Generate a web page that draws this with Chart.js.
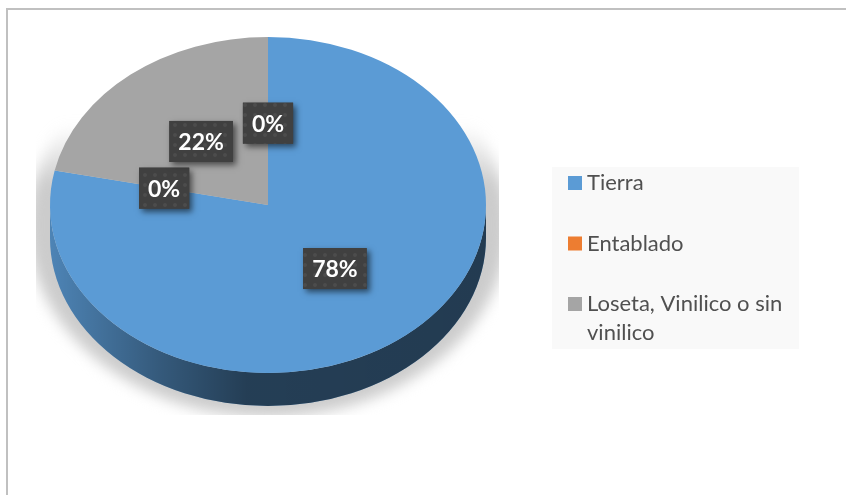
<!DOCTYPE html>
<html>
<head>
<meta charset="utf-8">
<title>Piso</title>
<script src="https://cdn.jsdelivr.net/npm/chart.js@4"></script>
<style>
  html, body { margin: 0; padding: 0; background: #fff; }
  canvas { display: block; }
</style>
</head>
<body>
<canvas id="grafico" width="846" height="495"></canvas>
<script>
const categorias = ['Tierra', 'Entablado', 'Loseta, Vinilico o sin vinilico', ''];
const valores = [78.3, 0, 21.7, 0];
const colores = ['#5b9bd5', '#ed7d31', '#a5a5a5', '#ffc000'];

// la torta se dibuja circular y se estira en x para que quede eliptica
const radioX = 218;
const radioY = 168;
const grosor = 33;

function crearTrama(ctx) {
  const tile = document.createElement('canvas');
  tile.width = 10;
  tile.height = 10;
  const t = tile.getContext('2d');
  t.fillStyle = '#404040';
  t.fillRect(0, 0, 10, 10);
  t.fillStyle = '#4c4c4c';
  t.beginPath();
  t.arc(5, 5, 2, 0, Math.PI * 2);
  t.fill();
  return ctx.createPattern(tile, 'repeat');
}

const torta3d = {
  id: 'torta3d',
  beforeDraw(chart) {
    const ctx = chart.ctx;
    ctx.save();
    ctx.fillStyle = '#fff';
    ctx.fillRect(0, 0, 846, 495);
    ctx.fillStyle = '#c0c0c0';
    ctx.fillRect(6, 8, 840, 2);
    ctx.fillRect(6, 8, 2, 487);
    ctx.restore();
  },
  beforeDatasetsDraw(chart) {
    const ctx = chart.ctx;
    const arcos = chart.getDatasetMeta(0).data;
    const cx = arcos[0].x;
    const cy = arcos[0].y;

    // sombra, se desvanece hacia arriba
    ctx.save();
    ctx.beginPath();
    ctx.rect(36, 100, 463, 315);
    ctx.clip();
    ctx.filter = 'blur(7px)';
    const sombra = ctx.createLinearGradient(0, 125, 0, 185);
    sombra.addColorStop(0, 'rgba(204,204,204,0)');
    sombra.addColorStop(1, 'rgba(204,204,204,1)');
    ctx.fillStyle = sombra;
    ctx.beginPath();
    ctx.ellipse(cx, cy + 20, 240, 192, 0, 0, Math.PI * 2);
    ctx.fill();
    ctx.restore();

    // pared lateral, solo la mitad de adelante
    ctx.save();
    const oscuro = ctx.createLinearGradient(cx - radioX, 0, cx + radioX, 0);
    oscuro.addColorStop(0, 'rgba(0,0,0,0.15)');
    oscuro.addColorStop(0.25, 'rgba(0,0,0,0.42)');
    oscuro.addColorStop(0.45, 'rgba(0,0,0,0.6)');
    oscuro.addColorStop(1, 'rgba(0,0,0,0.62)');
    arcos.forEach((arco, i) => {
      const a0 = Math.max(arco.startAngle, 0);
      const a1 = Math.min(arco.endAngle, Math.PI);
      if (a1 <= a0) return;
      [colores[i], oscuro].forEach(relleno => {
        ctx.fillStyle = relleno;
        ctx.beginPath();
        ctx.ellipse(cx, cy, radioX, radioY, 0, a0, a1);
        ctx.ellipse(cx, cy + grosor, radioX, radioY, 0, a1, a0, true);
        ctx.closePath();
        ctx.fill();
      });
    });
    ctx.restore();

    ctx.save();
    ctx.translate(cx, cy);
    ctx.scale(radioX / radioY, 1);
    ctx.translate(-cx, -cy);
  },
  afterDatasetsDraw(chart) {
    chart.ctx.restore();
  },
  afterDraw(chart) {
    const ctx = chart.ctx;
    const arcos = chart.getDatasetMeta(0).data;
    const total = valores.reduce((a, b) => a + b, 0);
    const trama = crearTrama(ctx);

    // etiquetas de porcentaje
    ctx.save();
    ctx.font = 'bold 23px Lato';
    ctx.textAlign = 'center';
    ctx.textBaseline = 'middle';
    arcos.forEach((arco, i) => {
      const medio = (arco.startAngle + arco.endAngle) / 2;
      const x = arco.x + Math.cos(medio) * radioX * 0.487;
      const y = arco.y + Math.sin(medio) * radioY * 0.487;
      const texto = Math.round(valores[i] / total * 100) + '%';
      const ancho = ctx.measureText(texto).width + 18;
      ctx.save();
      ctx.shadowColor = 'rgba(0,0,0,0.55)';
      ctx.shadowBlur = 6;
      ctx.shadowOffsetX = 3;
      ctx.shadowOffsetY = 3;
      ctx.fillStyle = '#404040';
      ctx.fillRect(x - ancho / 2, y - 20.5, ancho, 41);
      ctx.restore();
      ctx.fillStyle = trama;
      ctx.fillRect(x - ancho / 2, y - 20.5, ancho, 41);
      ctx.fillStyle = '#fff';
      ctx.fillText(texto, x, y + 1);
    });
    ctx.restore();

    // leyenda
    ctx.save();
    ctx.fillStyle = '#f9f9f9';
    ctx.fillRect(552, 167, 247, 182);
    ctx.font = '22px Lato';
    ctx.textBaseline = 'alphabetic';
    let y = 190;
    categorias.forEach((nombre, i) => {
      if (!nombre) return;
      ctx.fillStyle = colores[i];
      ctx.fillRect(568, y - 14, 14, 14);
      ctx.fillStyle = '#505050';
      let linea = '';
      let yTexto = y;
      nombre.split(' ').forEach(palabra => {
        const prueba = linea ? linea + ' ' + palabra : palabra;
        if (ctx.measureText(prueba).width > 205) {
          ctx.fillText(linea, 587, yTexto);
          yTexto += 28.5;
          linea = palabra;
        } else {
          linea = prueba;
        }
      });
      ctx.fillText(linea, 587, yTexto);
      y += 60.5;
    });
    ctx.restore();
  }
};

new Chart(document.getElementById('grafico').getContext('2d'), {
  type: 'pie',
  data: {
    labels: categorias,
    datasets: [{
      data: valores,
      backgroundColor: colores,
      borderWidth: 0
    }]
  },
  options: {
    responsive: false,
    animation: false,
    layout: { padding: { left: 100, top: 37, right: 410, bottom: 122 } },
    plugins: {
      legend: { display: false },
      tooltip: { enabled: false }
    }
  },
  plugins: [torta3d]
});
</script>
</body>
</html>
